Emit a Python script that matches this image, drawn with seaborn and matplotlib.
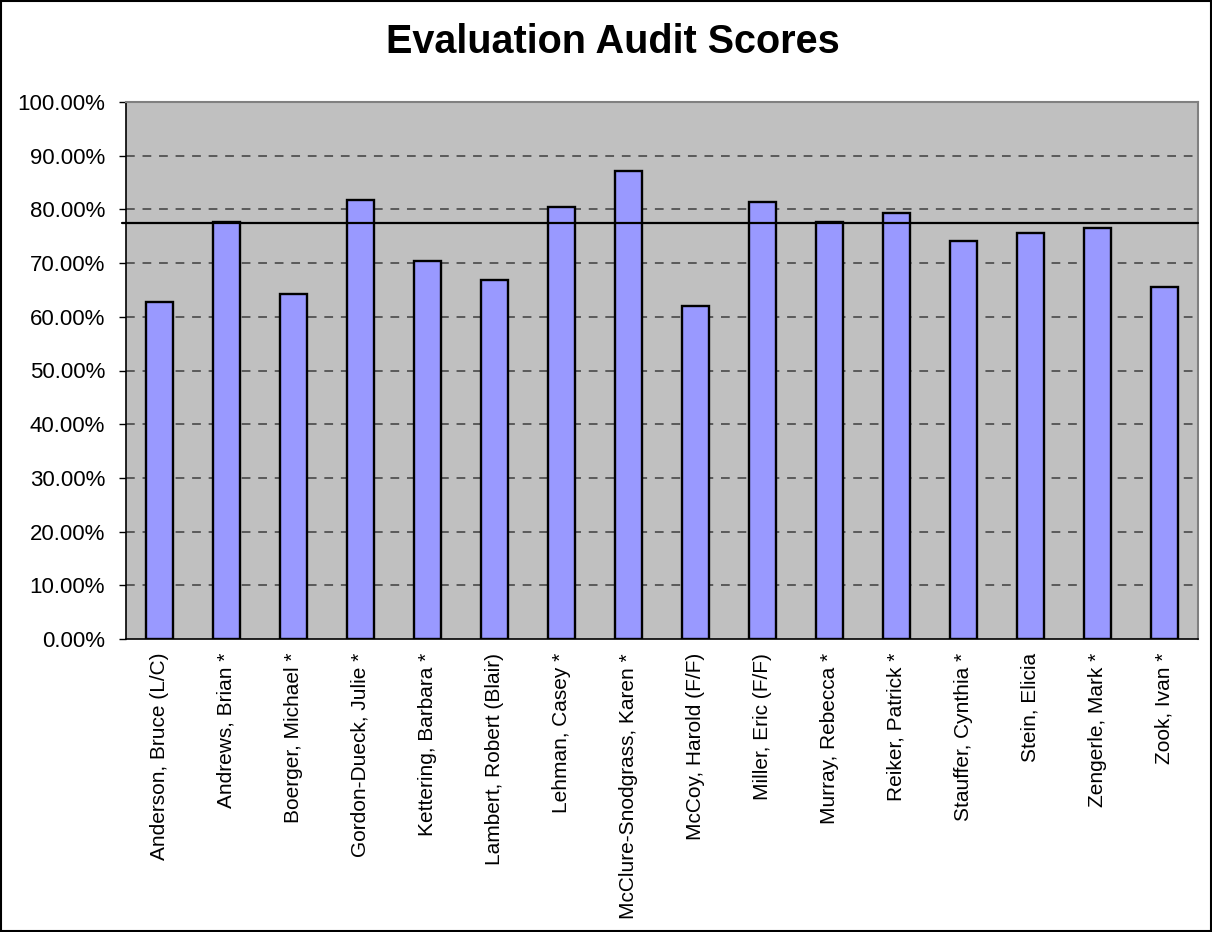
import matplotlib
matplotlib.use("Agg")
import matplotlib.pyplot as plt
import seaborn as sns
import numpy as np
from matplotlib.ticker import PercentFormatter, FixedLocator

names = ["Anderson, Bruce (L/C)", "Andrews, Brian *", "Boerger, Michael *",
         "Gordon-Dueck, Julie *", "Kettering, Barbara *", "Lambert, Robert (Blair)",
         "Lehman, Casey *", "McClure-Snodgrass, Karen *", "McCoy, Harold (F/F)",
         "Miller, Eric (F/F)", "Murray, Rebecca *", "Reiker, Patrick *",
         "Stauffer, Cynthia *", "Stein, Elicia", "Zengerle, Mark *", "Zook, Ivan *"]
scores = [0.628, 0.776, 0.643, 0.817, 0.704, 0.669, 0.804, 0.872,
          0.621, 0.814, 0.776, 0.793, 0.742, 0.756, 0.765, 0.656]
reference_line = 0.774
title = "Evaluation Audit Scores"

sns.set_style("white")
plt.rcParams['font.family'] = ['Liberation Sans', 'DejaVu Sans']
plt.rcParams['text.color'] = 'black'

fig = plt.figure(figsize=(12.12, 9.32), dpi=100)
ax = fig.add_axes([126/1212, 1 - 639/932, (1198-126)/1212, (639-102)/932])
ax.set_facecolor("#C0C0C0")

sns.barplot(x=names, y=scores, color="#9999FF", saturation=1, width=0.39,
            edgecolor="black", linewidth=1.7, ax=ax, zorder=3)

ax.set_ylim(0, 1)
ax.set_xlim(-0.5, len(names) - 0.5)
ax.yaxis.set_major_locator(FixedLocator(np.arange(0, 1.01, 0.1)))
ax.yaxis.set_major_formatter(PercentFormatter(1, decimals=2))

# gridlines (skip top)
for v in np.arange(0.1, 0.95, 0.1):
    ax.axhline(v, color="#5a5a5a", linewidth=1.4, linestyle=(0, (4.5, 4)), zorder=1)

ax.axhline(reference_line, color="black", linewidth=1.6, zorder=4, xmin=-0.004, clip_on=False)

# x ticks: labels at centers, marks at boundaries
ax.set_xticks(range(len(names)))
ax.set_xticklabels(names, rotation=90, fontsize=15, va="top", ha="center", color="black")
ax.set_xticks(np.arange(-0.5, len(names), 1.0), minor=True)
ax.tick_params(axis="x", which="major", length=0, pad=10)
ax.tick_params(axis="x", which="minor", length=5, width=1, color="black", direction="out")
ax.tick_params(axis="y", which="major", length=5, width=1, color="black", direction="out",
               labelsize=16, labelcolor="black", pad=10, left=True)
ax.set_xlabel("")
ax.set_ylabel("")

for s in ["left", "bottom"]:
    ax.spines[s].set_color("black")
    ax.spines[s].set_linewidth(1.2)
for s in ["top", "right"]:
    ax.spines[s].set_visible(True)
    ax.spines[s].set_color("#808080")
    ax.spines[s].set_linewidth(1.5)

fig.text(0.506, 1 - 42/932, title, ha="center", va="center", fontsize=28.5,
         fontweight="bold", color="black")

fig.add_artist(plt.Rectangle((0.0008, 0.001), 0.998, 0.998, transform=fig.transFigure,
                             fill=False, edgecolor="black", linewidth=1.5))

fig.savefig("out.png", dpi=100, facecolor="white")
